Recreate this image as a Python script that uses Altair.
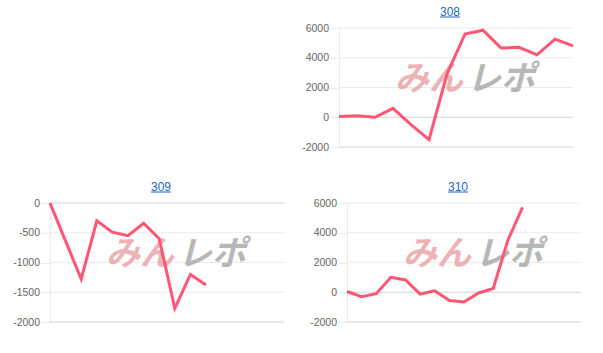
import altair as alt
import pandas as pd

# ---- data ----
titles = ["308", "309", "310"]

idx_308 = [0, 1, 2, 3, 4, 5, 6, 7, 8, 9, 10, 11, 12, 13]
val_308 = [50, 100, 0, 600, -500, -1500, 2900, 5600, 5850, 4650, 4700, 4200, 5250, 4800]

idx_309 = [0, 1, 2, 3, 4, 5, 6, 7, 8, 9, 10]
val_309 = [0, -640, -1280, -300, -490, -550, -340, -600, -1770, -1200, -1380]

idx_310 = [0, 1, 2, 3, 4, 5, 6, 7, 8, 9, 10, 11, 12]
val_310 = [50, -300, -100, 1000, 830, -120, 100, -550, -650, -50, 250, 3500, 5700]

slots = {"308": 14, "309": 16, "310": 17}

ticks_308 = [-2000, 0, 2000, 4000, 6000]
ticks_309 = [-2000, -1500, -1000, -500, 0]
ticks_310 = [-2000, 0, 2000, 4000, 6000]

watermark = ["みん", "レポ"]

# ---- style ----
LINE = "#ff5674"
GRID = "#ebebeb"
ZERO = "#d2d2d2"
TITLE_COLOR = "#1c67c9"
W, H = 234, 119


def anchor(x0, x1, y0, y1):
    # invisible (white) layout anchor so the outer bounds are deterministic
    return alt.Chart(pd.DataFrame({"a": [0]})).mark_rule(
        color="white", strokeWidth=1
    ).encode(x=alt.value(x0), x2=alt.value(x1), y=alt.value(y0), y2=alt.value(y1))


def panel(title, xs, vs, nslots, ticks, shift=0, extra=()):
    df = pd.DataFrame({"i": xs, "v": vs})
    lo, hi = min(ticks), max(ticks)
    yscale = alt.Scale(domain=[lo, hi], nice=False, zero=False)
    yaxis = alt.Axis(
        values=ticks, title=None, labelExpr="'' + datum.value",
        labelFont="Liberation Sans", labelFontSize=10.5, labelColor="#666666",
        labelPadding=1.5, tickSize=9, tickColor=GRID, domainColor=GRID,
        grid=False, offset=shift,
    )
    x = alt.X(
        "i:Q",
        scale=alt.Scale(domain=[0, nslots - 1], nice=False, zero=False,
                        range=[-shift, W - shift]),
        axis=None,
    )
    grid = alt.Chart(pd.DataFrame({"v": ticks})).mark_rule(strokeWidth=1).encode(
        y=alt.Y("v:Q", scale=yscale, axis=yaxis),
        x=alt.value(-shift), x2=alt.value(W - shift),
        color=alt.condition(f"datum.v === 0 || datum.v === {lo}",
                            alt.value(ZERO), alt.value(GRID)),
    )
    wm1 = alt.Chart(pd.DataFrame({"t": [watermark[0]]})).mark_text(
        font="Noto Sans CJK JP", fontSize=34, fontWeight="bold", fontStyle="italic",
        color="#e9a5aa", opacity=0.85, baseline="middle", align="center",
    ).encode(text="t:N", x=alt.value(90 - shift), y=alt.value(52))
    wm2 = alt.Chart(pd.DataFrame({"t": [watermark[1]]})).mark_text(
        font="Noto Sans CJK JP", fontSize=34, fontWeight="bold", fontStyle="italic",
        color="#ababab", opacity=0.85, baseline="middle", align="center",
    ).encode(text="t:N", x=alt.value(162 - shift), y=alt.value(52))
    line = alt.Chart(df).mark_line(color=LINE, strokeWidth=3).encode(
        x=x, y=alt.Y("v:Q", scale=yscale, axis=yaxis))
    ttl = alt.Chart(pd.DataFrame({"t": [title]})).mark_text(
        font="Liberation Sans", fontSize=12, color=TITLE_COLOR,
        baseline="alphabetic", align="center",
    ).encode(text="t:N", x=alt.value(W / 2 - 6 - shift), y=alt.value(-12.5))
    under = alt.Chart(pd.DataFrame({"t": [title]})).mark_rule(
        color=TITLE_COLOR, strokeWidth=1
    ).encode(x=alt.value(W / 2 - 16 - shift), x2=alt.value(W / 2 + 4 - shift),
             y=alt.value(-11))
    return alt.layer(*extra, grid, wm1, wm2, line, ttl, under).properties(
        width=W, height=H)


# empty top-left cell
blank = anchor(0, 1, 0, 1).properties(width=226, height=H)

p308 = panel(titles[0], idx_308, val_308, slots["308"], ticks_308, shift=8,
             extra=[anchor(0, 1, -27.5, -27.5)])
p309 = panel(titles[1], idx_309, val_309, slots["309"], ticks_309,
             extra=[anchor(-49.5, -49.5, 0, 1)])
p310 = panel(titles[2], idx_310, val_310, slots["310"], ticks_310)

chart = alt.concat(
    blank, p308, p309, p310,
    columns=2,
    spacing={"row": 56, "column": 63},
    align={"row": "each", "column": "none"},
    bounds="flush",
).properties(
    padding={"left": 0, "top": 0, "right": 0, "bottom": 0},
    background="white",
).configure_view(stroke=None)

chart.save("out.html", embed_options={"renderer": "svg", "actions": False})
